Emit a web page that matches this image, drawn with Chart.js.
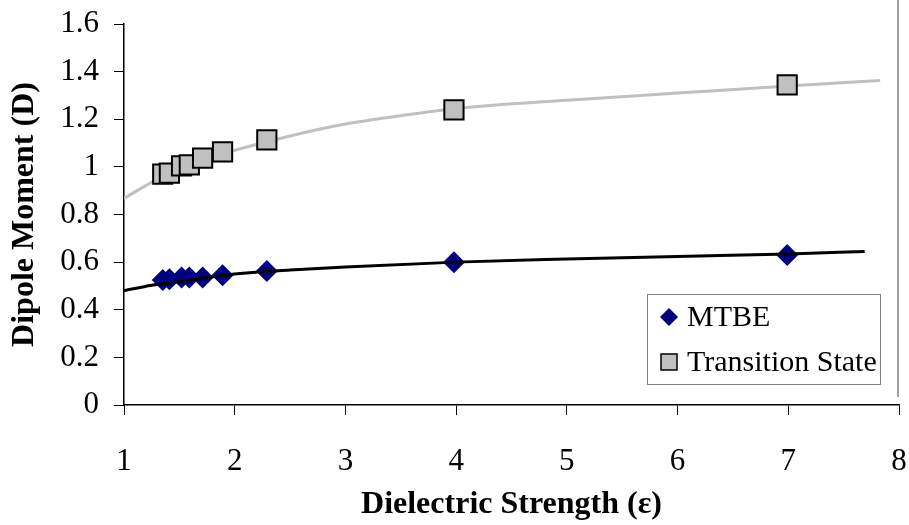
<!DOCTYPE html>
<html>
<head>
<meta charset="utf-8">
<script src="https://cdn.jsdelivr.net/npm/chart.js@4.4.1/dist/chart.umd.min.js"></script>
<style>
  html, body { margin: 0; padding: 0; background: #fff; }
  #wrap { width: 909px; height: 525px; }
</style>
</head>
<body>
<div id="wrap"><canvas id="dipoleChart" width="909" height="525"></canvas></div>
<script>
// dielectric strength of each computed point
const epsValues = [1.35, 1.41, 1.52, 1.59, 1.71, 1.89, 2.29, 3.98, 6.99];
// dipole moments
const mtbeDipole = [0.525, 0.528, 0.535, 0.535, 0.535, 0.545, 0.563, 0.60, 0.63];
const tsDipole = [0.970, 0.974, 1.004, 1.008, 1.037, 1.063, 1.113, 1.239, 1.344];

// trend curves, sampled along the drawn lines
const mtbeFitX = [1, 1.25, 1.5, 2, 2.5, 3, 4, 5, 6, 7, 7.69];
const mtbeFitY = [0.48, 0.503, 0.518, 0.55, 0.567, 0.58, 0.60, 0.613, 0.624, 0.634, 0.645];
const tsFitX = [1, 1.25, 1.5, 1.75, 2, 2.5, 3, 3.5, 4, 5, 6, 7, 7.83];
const tsFitY = [0.868, 0.935, 0.99, 1.035, 1.07, 1.13, 1.18, 1.215, 1.245, 1.28, 1.31, 1.34, 1.363];

const xTicks = [1, 2, 3, 4, 5, 6, 7, 8];
const yTicks = [0, 0.2, 0.4, 0.6, 0.8, 1, 1.2, 1.4, 1.6];

const seriesNames = ['MTBE', 'Transition State'];

const serif = "'Liberation Serif', 'Times New Roman', serif";

function pairs(xs, ys) {
    return xs.map((x, i) => ({ x: x, y: ys[i] }));
}

// legend box sitting inside the plot, bottom right, like the original
const boxLegend = {
    id: 'boxLegend',
    afterDraw(chart) {
        const ctx = chart.ctx;
        const area = chart.chartArea;
        const left = area.right - 252, right = area.right - 19;
        const top = area.bottom - 111, bottom = area.bottom - 21;
        ctx.save();
        ctx.fillStyle = '#fff';
        ctx.fillRect(left, top, right - left, bottom - top);
        ctx.strokeStyle = '#808080';
        ctx.lineWidth = 1;
        ctx.strokeRect(left + 0.5, top + 0.5, right - left, bottom - top);

        ctx.font = '30px ' + serif;
        ctx.textBaseline = 'middle';

        const y1 = top + 23, y2 = top + 68;
        const mx = left + 22;
        // diamond
        ctx.fillStyle = '#000080';
        ctx.beginPath();
        ctx.moveTo(mx - 9, y1); ctx.lineTo(mx, y1 - 9);
        ctx.lineTo(mx + 9, y1); ctx.lineTo(mx, y1 + 9);
        ctx.closePath();
        ctx.fill();
        // square
        ctx.fillStyle = '#c0c0c0';
        ctx.fillRect(mx - 8, y2 - 8, 16, 16);
        ctx.strokeStyle = '#000';
        ctx.lineWidth = 1.5;
        ctx.strokeRect(mx - 8, y2 - 8, 16, 16);

        ctx.fillStyle = '#000';
        ctx.fillText(seriesNames[0], left + 40, y1 + 1);
        ctx.fillText(seriesNames[1], left + 40, y2 + 1);

        // thin frame edge on the right
        ctx.strokeStyle = '#a0a0a0';
        ctx.lineWidth = 2;
        ctx.beginPath();
        ctx.moveTo(898, 0);
        ctx.lineTo(898, area.bottom - 8);
        ctx.stroke();
        ctx.restore();
    }
};

const ctx = document.getElementById('dipoleChart').getContext('2d');
new Chart(ctx, {
    type: 'scatter',
    data: {
        datasets: [
            {
                label: seriesNames[1],
                data: pairs(epsValues, tsDipole),
                pointStyle: 'rect',
                pointRadius: 13.6,
                pointHoverRadius: 13.6,
                backgroundColor: '#c0c0c0',
                borderColor: '#000',
                borderWidth: 2,
                showLine: false,
                order: 0
            },
            {
                label: 'MTBE fit',
                type: 'line',
                data: pairs(mtbeFitX, mtbeFitY),
                borderColor: '#000',
                borderWidth: 3,
                pointRadius: 0,
                cubicInterpolationMode: 'monotone',
                fill: false,
                order: 1
            },
            {
                label: seriesNames[0],
                data: pairs(epsValues, mtbeDipole),
                pointStyle: 'rectRot',
                pointRadius: 11,
                pointHoverRadius: 11,
                backgroundColor: '#000080',
                borderColor: '#000080',
                borderWidth: 0,
                showLine: false,
                order: 2
            },
            {
                label: 'Transition State fit',
                type: 'line',
                data: pairs(tsFitX, tsFitY),
                borderColor: '#c0c0c0',
                borderWidth: 3,
                pointRadius: 0,
                cubicInterpolationMode: 'monotone',
                fill: false,
                order: 3
            }
        ]
    },
    options: {
        responsive: false,
        animation: false,
        layout: {
            padding: { top: 24, right: 10, left: 0, bottom: 0 },
            autoPadding: false
        },
        plugins: {
            legend: { display: false },
            tooltip: { enabled: false }
        },
        scales: {
            x: {
                type: 'linear',
                min: 1,
                max: 8,
                afterFit(scale) {
                    scale.height = 120;
                    scale.paddingLeft = 0;
                    scale.paddingRight = 0;
                },
                afterBuildTicks(scale) { scale.ticks = xTicks.map(v => ({ value: v })); },
                border: { color: '#000', width: 1.5 },
                grid: { drawOnChartArea: false, drawTicks: true, tickLength: 10, color: '#000', lineWidth: 1 },
                ticks: {
                    color: '#000',
                    padding: 28,
                    font: { family: serif, size: 31 }
                },
                title: {
                    display: true,
                    text: 'Dielectric Strength (ε)',
                    color: '#000',
                    padding: { bottom: 1 },
                    font: { family: serif, size: 32, weight: 'bold' }
                }
            },
            y: {
                type: 'linear',
                min: 0,
                max: 1.6,
                afterFit(scale) {
                    scale.width = 124;
                    scale.paddingTop = 0;
                    scale.paddingBottom = 0;
                },
                afterBuildTicks(scale) { scale.ticks = yTicks.map(v => ({ value: v })); },
                border: { color: '#000', width: 1.5 },
                grid: { drawOnChartArea: false, drawTicks: true, tickLength: 10, color: '#000', lineWidth: 1 },
                ticks: {
                    color: '#000',
                    padding: 15,
                    font: { family: serif, size: 31 },
                    callback: v => String(Math.round(v * 10) / 10)
                },
                title: {
                    display: true,
                    text: 'Dipole Moment (D)',
                    color: '#000',
                    padding: { top: 6 },
                    font: { family: serif, size: 32, weight: 'bold' }
                }
            }
        }
    },
    plugins: [boxLegend]
});
</script>
</body>
</html>
